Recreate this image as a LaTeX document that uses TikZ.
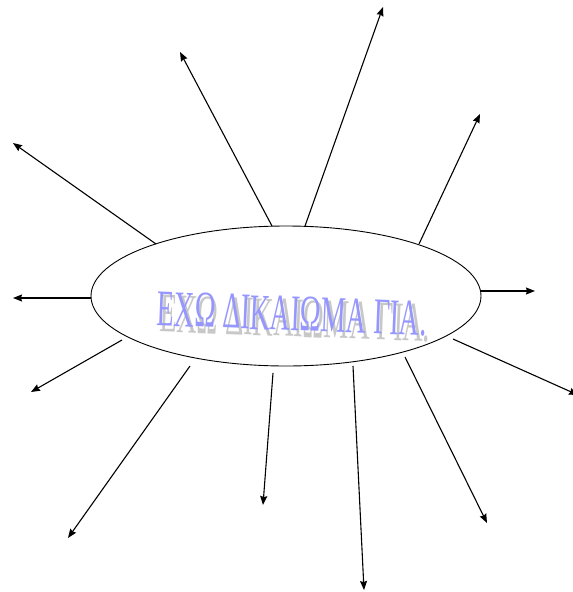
\documentclass[tikz,border=0pt]{standalone}
\usepackage{fontspec}
\setmainfont{Liberation Serif}
\usetikzlibrary{arrows.meta,shapes.geometric}
\definecolor{wablue}{RGB}{150,150,255}
\definecolor{wagray}{RGB}{200,200,200}
\tikzset{
  spoke/.style={line width=1.1pt,-{Stealth[length=9pt,width=7pt,inset=1pt]}},
  hub/.style={draw,ellipse,line width=0.9pt,fill=white,minimum width=390pt,minimum height=140pt,inner sep=0pt}
}
\newcommand{\watext}{ΕΧΩ ΔΙΚΑΙΩΜΑ ΓΙΑ.}
\newcommand{\wordart}{%
  \rlap{\hspace{3pt}\raisebox{-6pt}[0pt][0pt]{\textcolor{wagray}{\resizebox{271pt}{37pt}{\watext}}}}%
  \textcolor{wablue}{\resizebox{270pt}{34pt}{\watext}}}
\begin{document}
\begin{tikzpicture}[x=1pt,y=-1pt]
\useasboundingbox (0,0) rectangle (573,592);
\clip (0,0) rectangle (573,592);
\node[hub] (c) at (286,296) {};
\node[inner sep=0pt,rotate=-2.2] (t) at (292,314) {\wordart};
% spoke ends
\coordinate (s1) at (272,226); \coordinate (e1) at (180,52);
\coordinate (s2) at (305,226); \coordinate (e2) at (383,7);
\coordinate (s3) at (419,244); \coordinate (e3) at (480,114);
\coordinate (s4) at (156,244); \coordinate (e4) at (13,143);
\coordinate (s5) at (91,298);  \coordinate (e5) at (13,298);
\coordinate (s6) at (481,291); \coordinate (e6) at (535,291);
\coordinate (s7) at (122,340); \coordinate (e7) at (31,392);
\coordinate (s8) at (453,339); \coordinate (e8) at (578,395);
\coordinate (s9) at (190,366); \coordinate (e9) at (68,538);
\coordinate (s10) at (273,373); \coordinate (e10) at (263,505);
\coordinate (s11) at (353,366); \coordinate (e11) at (364,590);
\coordinate (s12) at (405,357); \coordinate (e12) at (487,523);
\foreach \i in {1,...,12}{\draw[spoke] (s\i) -- (e\i);}
\end{tikzpicture}
\end{document}
